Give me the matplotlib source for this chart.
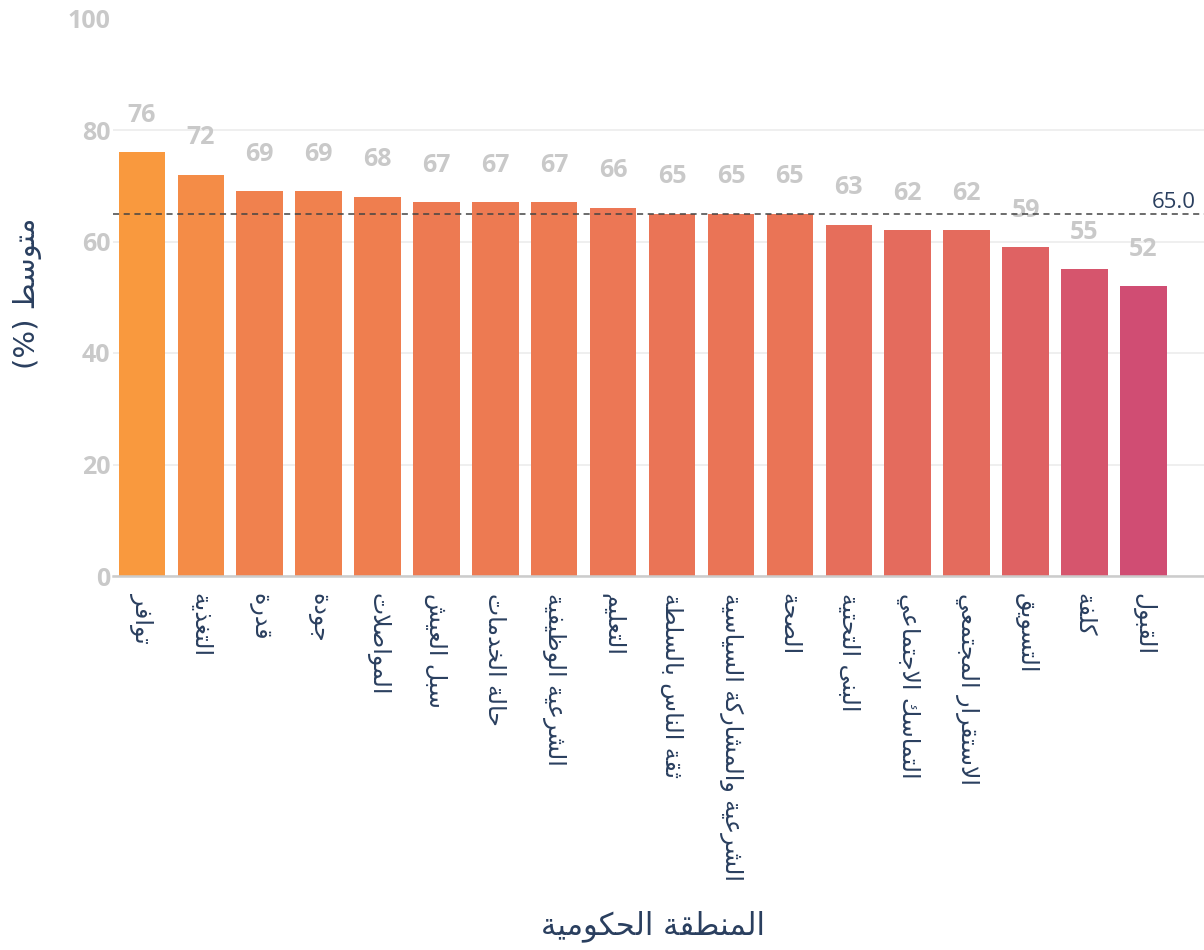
import matplotlib
matplotlib.use('Agg')
import matplotlib.pyplot as plt
from matplotlib.colors import LinearSegmentedColormap
import numpy as np

# 数据
categories = ['توافر', 'التغذية', 'قدرة', 'جودة', 'المواصلات', 'سبل العيش',
              'حالة الخدمات', 'الشرعية الوظيفية', 'التعليم', 'ثقة الناس بالسلطة',
              'الشرعية والمشاركة السياسية', 'الصحة', 'البنى التحتية',
              'التماسك الاجتماعي', 'الاستقرار المجتمعي', 'التسويق', 'كلفة', 'القبول']
values = [76, 72, 69, 69, 68, 67, 67, 67, 66, 65, 65, 65, 63, 62, 62, 59, 55, 52]
mean_value = 65.0
x_title = 'المنطقة الحكومية'
y_title = 'متوسط (%)'

# 阿拉伯字母连写（matplotlib 不做字形整形）
DUAL = {'ب': 0xFE8F, 'ت': 0xFE95, 'ث': 0xFE99, 'ج': 0xFE9D, 'ح': 0xFEA1,
        'خ': 0xFEA5, 'س': 0xFEB1, 'ش': 0xFEB5, 'ص': 0xFEB9, 'ض': 0xFEBD,
        'ط': 0xFEC1, 'ظ': 0xFEC5, 'ع': 0xFEC9, 'غ': 0xFECD, 'ف': 0xFED1,
        'ق': 0xFED5, 'ك': 0xFED9, 'ل': 0xFEDD, 'م': 0xFEE1, 'ن': 0xFEE5,
        'ه': 0xFEE9, 'ي': 0xFEF1}
RIGHT = {'ا': 0xFE8D, 'ة': 0xFE93, 'د': 0xFEA9, 'ذ': 0xFEAB, 'ر': 0xFEAD,
         'ز': 0xFEAF, 'و': 0xFEED, 'ى': 0xFEEF, 'أ': 0xFE83, 'إ': 0xFE87,
         'آ': 0xFE81}
LAM_ALEF = {'ا': 0xFEFB, 'أ': 0xFEF7, 'إ': 0xFEF9, 'آ': 0xFEF5}
MIRROR = {'(': ')', ')': '(', '[': ']', ']': '['}


def shape(text):
    tokens = []
    i = 0
    while i < len(text):
        c = text[i]
        if c == 'ل' and i + 1 < len(text) and text[i + 1] in LAM_ALEF:
            tokens.append((LAM_ALEF[text[i + 1]], 'R'))
            i += 2
            continue
        if c in DUAL:
            tokens.append((DUAL[c], 'D'))
        elif c in RIGHT:
            tokens.append((RIGHT[c], 'R'))
        else:
            tokens.append((c, None))
        i += 1

    out = []
    for k, (base, kind) in enumerate(tokens):
        if kind is None:
            out.append(MIRROR.get(base, base))
            continue
        prev = k > 0 and tokens[k - 1][1] == 'D'
        nxt = kind == 'D' and k + 1 < len(tokens) and tokens[k + 1][1] is not None
        if kind == 'D':
            off = 3 if (prev and nxt) else 1 if prev else 2 if nxt else 0
        else:
            off = 1 if prev else 0
        out.append(chr(base + off))
    return ''.join(reversed(out))


AR_FONT = ['DejaVu Sans']
NUM_FONT = ['Open Sans', 'DejaVu Sans']
DARK = '#2a3f5f'
LIGHT = '#c9c9c9'

# Plasma 色阶，取值范围 0-100
plasma = LinearSegmentedColormap.from_list('plasma_steps', [
    '#0d0887', '#46039f', '#7201a8', '#9c179e', '#bd3786',
    '#d8576b', '#ed7953', '#fb9f3a', '#fdca26', '#f0f921'])
colors = [plasma(v / 100) for v in values]

fig = plt.figure(figsize=(12.04, 9.5), dpi=100)
ax = fig.add_axes([113 / 1204, 1 - 576 / 950, 1 - 113 / 1204, (576 - 18.5) / 950])

x = np.arange(len(categories))
bars = ax.bar(x, values, width=0.79, color=colors, zorder=2)

# 柱顶数值
for xi, v in zip(x, values):
    ax.annotate(f'{v}', (xi, v), xytext=(0, 22), textcoords='offset points',
                ha='center', va='baseline', fontsize=18, fontweight='bold',
                color=LIGHT, family=NUM_FONT, zorder=3)

# 平均线
ax.axhline(mean_value, color='#444444', linestyle=(0, (4, 3)), linewidth=1.1, zorder=4)
ax.annotate(f'{mean_value:.1f}', (1, mean_value), xycoords=('axes fraction', 'data'),
            xytext=(-6, 4), textcoords='offset points', ha='right', va='baseline',
            fontsize=16, color=DARK, family=NUM_FONT)

ax.set_xlim(-0.49, 18.03)
ax.set_ylim(0, 100)
ax.set_yticks([0, 20, 40, 60, 80, 100])
ax.set_yticklabels(['0', '20', '40', '60', '80', '100'], fontsize=18,
                   fontweight='bold', color=LIGHT, family=NUM_FONT)
ax.set_xticks(x)
ax.set_xticklabels([shape(c) for c in categories], rotation=-90, fontsize=17,
                   color=DARK, family=AR_FONT)
ax.tick_params(axis='y', length=0, pad=2)
ax.tick_params(axis='x', length=0, pad=12)

ax.grid(True, axis='y', color='#ececec', linewidth=1.2, zorder=0)
ax.get_ygridlines()[-1].set_visible(False)
ax.set_axisbelow(True)
for s in ['top', 'right', 'left']:
    ax.spines[s].set_visible(False)
ax.spines['bottom'].set_color('#cccccc')
ax.spines['bottom'].set_linewidth(1.8)

fig.text(28 / 1204, 1 - 293 / 950, shape(y_title), rotation=90, ha='center', va='center',
         fontsize=21, color=DARK, family=AR_FONT)
fig.text(653 / 1204, 1 - 926 / 950, shape(x_title), ha='center', va='center',
         fontsize=22, color=DARK, family=AR_FONT)

plt.savefig('out.png', dpi=100)
plt.close()
